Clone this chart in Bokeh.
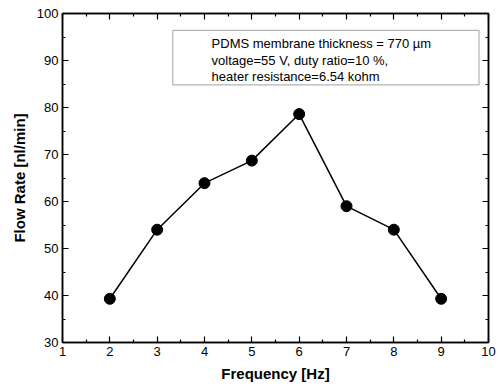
from bokeh.plotting import figure
from bokeh.models import LinearAxis, BoxAnnotation, Label, Range1d, FixedTicker
from bokeh.embed import file_html
from bokeh.resources import INLINE

frequency = [2, 3, 4, 5, 6, 7, 8, 9]
flow_rate = [39.3, 54.0, 63.9, 68.7, 78.6, 59.0, 54.0, 39.3]
x_ticks = [1, 2, 3, 4, 5, 6, 7, 8, 9, 10]
y_ticks = [30, 40, 50, 60, 70, 80, 90, 100]
notes = ["PDMS membrane thickness = 770 \u00b5m",
         "voltage=55 V, duty ratio=10 %,",
         "heater resistance=6.54 kohm"]

FONT = "Liberation Sans"

p = figure(width=504, height=389, output_backend="svg", toolbar_location=None,
           x_range=Range1d(1, 10), y_range=Range1d(30, 100),
           min_border_left=62, min_border_right=16, min_border_top=13, min_border_bottom=47,
           x_axis_label="Frequency [Hz]", y_axis_label="Flow Rate [nl/min]")
p.grid.visible = False
p.outline_line_color = "black"
p.outline_line_width = 1.5
p.background_fill_color = "white"
p.border_fill_color = "white"

def style(ax, labels=True):
    ax.axis_line_color = "black"
    ax.axis_line_width = 1.5
    ax.major_tick_in = 6
    ax.major_tick_out = 0
    ax.minor_tick_in = 3
    ax.minor_tick_out = 0
    ax.major_tick_line_width = 1.2
    ax.minor_tick_line_width = 1.2
    ax.major_label_text_font = FONT
    ax.major_label_text_font_size = "13px"
    ax.major_label_text_color = "black"
    ax.major_label_standoff = 4
    ax.axis_label_text_font = FONT
    ax.axis_label_text_font_style = "bold"
    ax.axis_label_text_font_size = "15px"
    ax.axis_label_text_color = "black"
    ax.axis_label_standoff = 6

xt = FixedTicker(ticks=x_ticks, minor_ticks=[v + 0.5 for v in x_ticks[:-1]])
yt = FixedTicker(ticks=y_ticks, minor_ticks=[v + 5 for v in y_ticks[:-1]])
p.xaxis.ticker = xt
p.yaxis.ticker = yt
style(p.xaxis[0]); style(p.yaxis[0])

top = LinearAxis(ticker=xt, major_label_overrides={v: "" for v in x_ticks})
right = LinearAxis(ticker=yt, major_label_overrides={v: "" for v in y_ticks})
style(top, False); style(right, False)
top.major_label_standoff = 0
right.major_label_standoff = 0
p.add_layout(top, "above")
p.add_layout(right, "right")

p.line(frequency, flow_rate, line_color="black", line_width=1.5)
p.scatter(frequency, flow_rate, size=11, fill_color="black", line_color="black")

box = BoxAnnotation(left=3.33, right=9.8, top=96.4, bottom=84.8,
                    fill_color="white", fill_alpha=1.0,
                    line_color="black", line_width=1.2)
p.add_layout(box)
for i, t in enumerate(notes):
    p.add_layout(Label(x=4.15, y=93.6 - i * 3.55, text=t, text_font=FONT,
                       text_font_size="13px", text_color="black",
                       text_baseline="middle"))

open("out.html", "w").write(file_html(p, INLINE))
